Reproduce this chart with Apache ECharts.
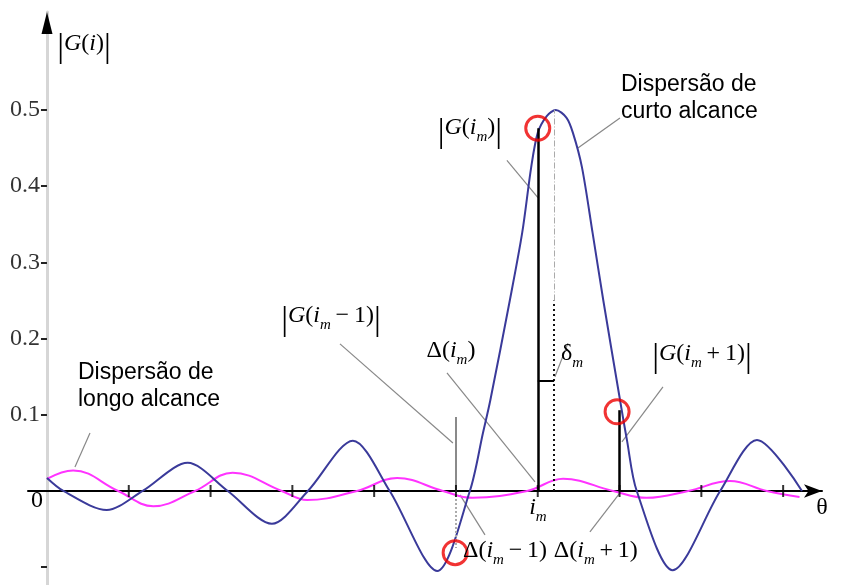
<!DOCTYPE html>
<html>
<head>
<meta charset="utf-8">
<script src="https://cdn.jsdelivr.net/npm/echarts@6/dist/echarts.min.js"></script>
<style>
  html, body { margin: 0; padding: 0; background: #fff; }
  #box { width: 848px; height: 585px; }
</style>
</head>
<body>
<div id="box"></div>
<script>
// curves (x in tick units, y = |G|)
const shortX = [0, 0.2, 0.73, 1.17, 1.72, 2.21, 2.75, 3.19, 3.74, 4.19, 4.77, 5.17, 5.33, 5.42, 5.66, 5.81, 5.92, 6.0, 6.11, 6.22, 6.35, 6.43, 6.54, 6.67, 6.8, 7.0, 7.09, 7.21, 7.65, 8.23, 8.68, 9.23];
const shortY = [0.017, 0, -0.025, 0, 0.037, 0, -0.043, 0, 0.066, 0, -0.105, 0, 0.076, 0.119, 0.251, 0.339, 0.425, 0.47, 0.492, 0.5, 0.49, 0.47, 0.425, 0.339, 0.251, 0.123, 0.067, 0, -0.104, 0, 0.067, 0];
const longX = [0, 0.32, 0.87, 1.3, 1.81, 2.27, 2.87, 3.18, 3.79, 4.28, 4.84, 5.2, 5.87, 6.31, 6.92, 7.33, 7.84, 8.35, 8.8, 9.2];
const longY = [0.016, 0.027, 0, -0.02, 0, 0.024, 0, -0.012, 0, 0.017, 0, -0.009, 0, 0.016, 0, -0.009, 0, 0.013, 0, -0.008];

const yTicks = [-0.1, 0.1, 0.2, 0.3, 0.4, 0.5];
const yLabels = [0.1, 0.2, 0.3, 0.4, 0.5];
const xTicks = [1, 2, 3, 4, 5, 6, 7, 8, 9];

// samples |G(im-1)|, |G(im)|, |G(im+1)|
const sampleX = [5, 6, 7];
const sampleG = [0.097, 0.476, 0.106];
const peakX = 6.2;
const peakG = 0.5;
const deltaLevel = 0.144;
const deltaLow = -0.075;   // Δ(im-1) dotted drop
const circles = [[6.0, 0.476], [4.99, -0.081], [6.97, 0.104]];

const chart = echarts.init(document.getElementById('box'));
const serif = 'Liberation Serif';
const sans = 'Liberation Sans';

const zip = (xs, ys) => xs.map((x, i) => [x, ys[i]]);

const seg = (a, b, style) => ({ coords: [a, b], lineStyle: Object.assign({ opacity: 1, curveness: 0 }, style) });
const barLines = [
  seg([sampleX[0], 0], [sampleX[0], sampleG[0]], { color: '#8a8a8a', width: 2 }),
  seg([sampleX[1], 0], [sampleX[1], sampleG[1]], { color: '#000', width: 2.5 }),
  seg([sampleX[2], 0], [sampleX[2], sampleG[2]], { color: '#000', width: 2.5 }),
  seg([peakX, 0], [peakX, 0.25], { color: '#111', width: 2, type: [2, 3] }),
  seg([peakX, 0.25], [peakX, peakG], { color: '#aaa', width: 1, type: [6, 2, 1, 2] }),
  seg([sampleX[1], deltaLevel], [peakX, deltaLevel], { color: '#000', width: 2 }),
  seg([sampleX[0], 0], [sampleX[0], deltaLow], { color: '#aaa', width: 2, type: [2, 2] })
];

// leader lines from labels to marks
const leaders = [
  [[0.526, 0.076], [0.342, 0.0315]],
  [[7.005, 0.4895], [6.491, 0.450]],
  [[5.623, 0.434], [6.002, 0.385]],
  [[4.890, 0.155], [5.966, 0.0118]],
  [[3.582, 0.193], [4.963, 0.063]],
  [[5.355, -0.0577], [5.049, -0.0052]],
  [[6.638, -0.0538], [7.005, -0.0026]],
  [[7.531, 0.1365], [7.029, 0.0643]],
  [[6.369, 0.194], [6.210, 0.150]]
];

const option = {
  animation: false,
  grid: { left: 28, top: 12, width: 794, height: 573, outerBoundsMode: 'none', containLabel: false },
  xAxis: {
    type: 'value', min: -0.232, max: 9.475,
    axisLine: { onZero: true, symbol: ['none', 'arrow'], symbolSize: [10, 18], lineStyle: { color: '#000', width: 2 } },
    axisTick: { show: false },
    axisLabel: { show: false },
    splitLine: { show: false }
  },
  yAxis: {
    type: 'value', min: -0.1234, max: 0.6286,
    axisLine: { onZero: true, lineStyle: { color: '#d6d6d6', width: 3 } },
    axisTick: { show: true, customValues: yTicks, length: 6, lineStyle: { color: '#222', width: 2 } },
    axisLabel: {
      customValues: yLabels, margin: -12,
      fontFamily: serif, fontSize: 24, color: '#333',
      formatter: v => v.toFixed(1)
    },
    splitLine: { show: false }
  },
  series: [
    {
      name: 'longo', type: 'line', smooth: 0.4, showSymbol: false, z: 3,
      lineStyle: { color: '#ff33ff', width: 2 },
      data: zip(longX, longY)
    },
    {
      name: 'curto', type: 'line', smooth: 0.3, showSymbol: false, z: 4,
      lineStyle: { color: '#3a3a9a', width: 2 },
      data: zip(shortX, shortY)
    },
    {
      type: 'lines', coordinateSystem: 'cartesian2d', z: 5,
      data: barLines
    },
    {
      type: 'lines', coordinateSystem: 'cartesian2d', z: 2,
      lineStyle: { color: '#888', width: 1.2, opacity: 1 },
      data: leaders.map(l => ({ coords: l }))
    },
    {
      type: 'scatter', symbol: 'rect', symbolSize: [2, 12], z: 6,
      itemStyle: { color: '#000' },
      data: xTicks.map(x => [x, 0])
    },
    {
      type: 'scatter', symbol: 'circle', symbolSize: 24, z: 7,
      itemStyle: { color: 'rgba(0,0,0,0)', borderColor: '#ee0000', borderWidth: 3 },
      data: circles
    }
  ]
};
chart.setOption(option);

// text annotations anchored in data coordinates
const px = p => chart.convertToPixel({ gridIndex: 0 }, p);
const rich = {
  n: { fontFamily: serif, fontSize: 24, lineHeight: 28, verticalAlign: 'top', color: '#222' },
  i: { fontFamily: serif, fontStyle: 'italic', fontSize: 24, lineHeight: 28, verticalAlign: 'top', color: '#222' },
  s: { fontFamily: serif, fontStyle: 'italic', fontSize: 15, lineHeight: 15, padding: [14, 0, 0, 0], verticalAlign: 'top', color: '#222' },
  b: { fontFamily: serif, fontSize: 34, lineHeight: 28, verticalAlign: 'top', color: '#222' }
};
const mathText = (p, text) => {
  const q = px(p);
  return { type: 'text', x: q[0], y: q[1], z: 100, style: { text, rich, align: 'center', verticalAlign: 'middle' } };
};
const plainText = (p, text) => {
  const q = px(p);
  return {
    type: 'text', x: q[0], y: q[1], z: 100,
    style: { text, fontFamily: sans, fontSize: 23, lineHeight: 27, fill: '#000', align: 'left', verticalAlign: 'middle' }
  };
};
const arrowTop = px([0, 0.6286]);

chart.setOption({
  graphic: [
    { type: 'polygon', z: 100, shape: { points: [[arrowTop[0], arrowTop[1]], [arrowTop[0] - 5.5, arrowTop[1] + 22], [arrowTop[0] + 5.5, arrowTop[1] + 22]] }, style: { fill: '#000' } },
    mathText([0.452, 0.585], '{b||}{i|G}{n|(}{i|i}{n|)}{b||}'),
    mathText([5.171, 0.474], '{b||}{i|G}{n|(}{i|i}{s|m}{n|)}{b||}'),
    mathText([3.472, 0.227], '{b||}{i|G}{n|(}{i|i}{s|m}{n|\u2009−\u20091)}{b||}'),
    mathText([8.007, 0.178], '{b||}{i|G}{n|(}{i|i}{s|m}{n|\u2009+\u20091)}{b||}'),
    mathText([4.939, 0.182], '{n|Δ(}{i|i}{s|m}{n|)}'),
    mathText([6.418, 0.178], '{n|δ}{s|m}'),
    mathText([5.6, -0.081], '{n|Δ(}{i|i}{s|m}{n|\u2009−\u20091)}'),
    mathText([6.71, -0.081], '{n|Δ(}{i|i}{s|m}{n|\u2009+\u20091)}'),
    mathText([6.002, -0.025], '{i|i}{s|m}'),
    mathText([9.474, -0.025], '{n|θ}'),
    mathText([-0.122, -0.016], '{n|0}'),
    plainText([7.017, 0.516], 'Dispersão de\ncurto alcance'),
    plainText([0.379, 0.138], 'Dispersão de\nlongo alcance')
  ]
});
</script>
</body>
</html>
